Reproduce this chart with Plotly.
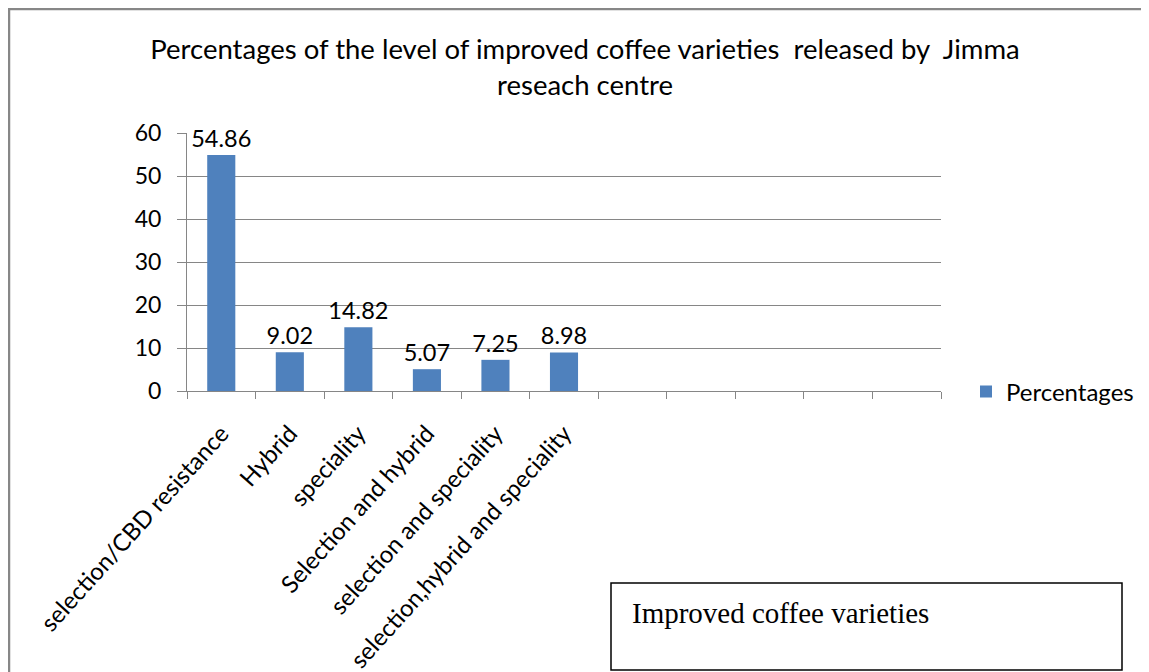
import plotly.graph_objects as go

categories = ["selection/CBD resistance", "Hybrid", "speciality", "Selection and hybrid",
              "selection and speciality", "selection,hybrid and speciality"]
values = [54.86, 9.02, 14.82, 5.07, 7.25, 8.98]
value_labels = ["54.86", "9.02", "14.82", "5.07", "7.25", "8.98"]
empty_slots = ["\u200b" * (i + 1) for i in range(5)]
y_ticks = [0, 10, 20, 30, 40, 50, 60]

# page offset (browser body margin)
OX, OY = 8, 8
W, H = 1149 - OX, 672 - OY
L, R, T, B = 187 - OX, 941 - OX, 133 - OY, 391 - OY

def px(x):
    return (x - OX - L) / (R - L)

def py(y):
    return (B - (y - OY)) / (B - T)

FONT = "Lato"
GRAY = "#868686"

fig = go.Figure()
fig.add_trace(go.Bar(
    x=categories, y=values, name="Percentages",
    marker=dict(color="#4F81BD", line=dict(width=0)),
    text=value_labels, textposition="outside", constraintext="none",
    textfont=dict(family=FONT, size=23.5, color="#000"),
    cliponaxis=False, width=0.41, showlegend=True,
))

fig.update_layout(
    width=W, height=H,
    margin=dict(l=L, r=W - R, t=T, b=H - B, pad=0, autoexpand=False),
    paper_bgcolor="white", plot_bgcolor="white",
    title=dict(text="Percentages of the level of improved coffee varieties  released by  Jimma<br>reseach centre",
               xref="container", yref="container",
               x=(585 - OX) / W, xanchor="center", y=1 - (59 - OY) / H, yanchor="middle",
               font=dict(family=FONT, size=27.5, color="#000")),
    xaxis=dict(type="category", categoryorder="array", categoryarray=categories + empty_slots,
               range=[-0.5, 10.5], showline=True, linecolor=GRAY, linewidth=1,
               ticks="outside", tickson="boundaries", ticklen=7, tickcolor=GRAY,
               tickangle=-48, tickfont=dict(family=FONT, size=24, color="#000"),
               ticklabelstandoff=18, automargin=False,
               showgrid=False, fixedrange=True),
    yaxis=dict(range=[0, 60], tickvals=y_ticks, showline=True, linecolor=GRAY, linewidth=1,
               ticks="outside", ticklen=9, tickcolor=GRAY, ticklabelstandoff=11,
               showgrid=True, gridcolor=GRAY, gridwidth=1, zeroline=False, automargin=False,
               tickfont=dict(family=FONT, size=23, color="#000"), fixedrange=True),
    legend=dict(x=px(966), y=py(392), xanchor="left", yanchor="middle",
                font=dict(family=FONT, size=24, color="#000"), bgcolor="rgba(0,0,0,0)",
                itemwidth=30),
    bargap=0.59,
    shapes=[
        dict(type="rect", xref="paper", yref="paper", x0=px(9), x1=px(1170), y0=py(9), y1=py(700),
             line=dict(color="#878787", width=2.5), fillcolor="rgba(0,0,0,0)", layer="below"),
        dict(type="rect", xref="paper", yref="paper", x0=px(611), x1=px(1122), y0=py(583), y1=py(670),
             line=dict(color="#000", width=1.5), fillcolor="rgba(0,0,0,0)"),
    ],
    annotations=[
        dict(text="Improved coffee varieties", xref="paper", yref="paper", x=px(630), y=py(613),
             xanchor="left", yanchor="middle", showarrow=False,
             font=dict(family="Liberation Serif", size=29, color="#000")),
    ],
)

fig.write_html("out.html")
